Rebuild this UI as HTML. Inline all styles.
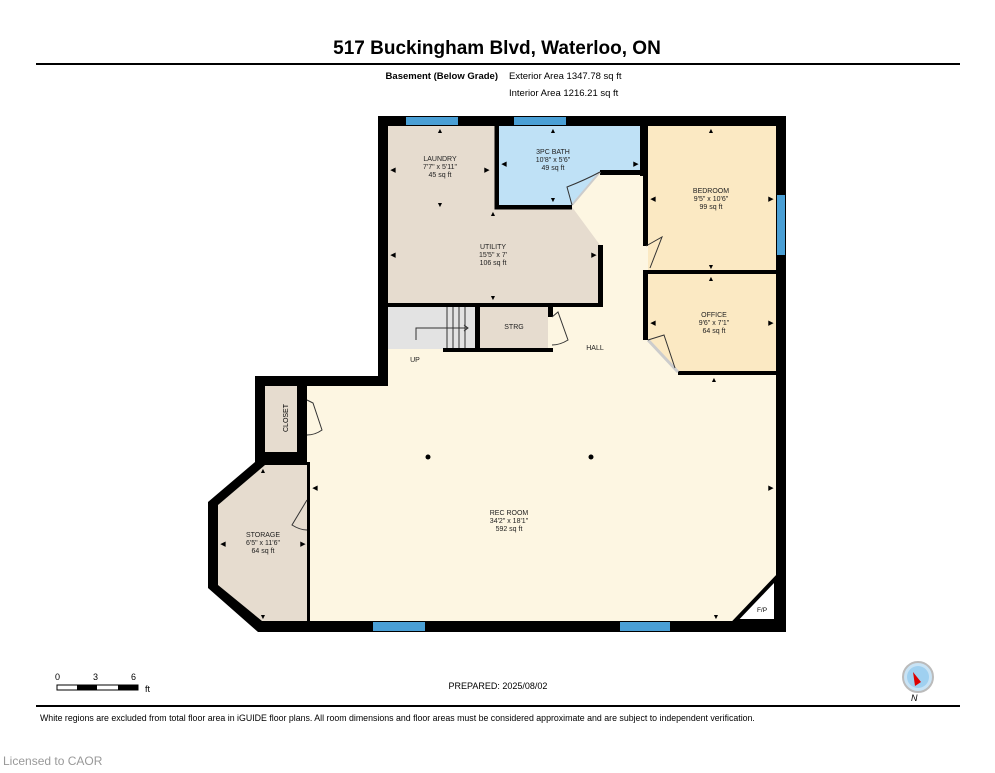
<!DOCTYPE html>
<html><head><meta charset="utf-8"><style>
body{margin:0;background:#fff;width:995px;height:768px;overflow:hidden;font-family:"Liberation Sans",sans-serif}
</style></head><body>
<svg width="995" height="768" viewBox="0 0 995 768" xmlns="http://www.w3.org/2000/svg" font-family="Liberation Sans, sans-serif">
<text x="497" y="54" font-size="19" font-weight="bold" text-anchor="middle">517 Buckingham Blvd, Waterloo, ON</text>
<rect x="36" y="63" width="924" height="2" fill="#000"/>
<text x="498" y="79" font-size="9.5" font-weight="bold" text-anchor="end">Basement (Below Grade)</text>
<text x="509" y="79" font-size="9.5">Exterior Area 1347.78 sq ft</text>
<text x="509" y="96" font-size="9.5">Interior Area 1216.21 sq ft</text>

<polygon points="378,116 786,116 786,632 258,632 208,588 208,502 255,462 255,376 378,376" fill="#000"/>
<polygon points="388,126 776,126 776,621 310,621 310,462 307,462 307,386 388,386" fill="#fdf6e2"/>
<polygon points="388,126 497,126 497,207 572,207 600,245 600,303 388,303" fill="#e6dccf"/>
<path d="M497,126 V207 H572" stroke="#000" stroke-width="5" fill="none"/>
<rect x="598" y="245" width="5" height="62" fill="#000"/>
<rect x="388" y="303" width="215" height="4" fill="#000"/>
<polygon points="499,126 640,126 640,172 600,172 572,205 499,205" fill="#bfe1f6"/>
<rect x="640" y="126" width="5" height="50" fill="#000"/>
<rect x="600" y="170" width="45" height="5" fill="#000"/>
<path d="M572,205 L600,172" stroke="#ccc" stroke-width="2"/>
<path d="M572,205 L567,187 Q585,180 600,172" stroke="#333" stroke-width="1" fill="none"/>
<rect x="648" y="126" width="128" height="144" fill="#fbe9c3"/>
<rect x="643" y="126" width="5" height="120" fill="#000"/>
<rect x="643" y="270" width="133" height="4" fill="#000"/>
<path d="M646,246 L662,237 L650,268" stroke="#333" stroke-width="1" fill="none"/>
<polygon points="648,274 776,274 776,372 678,372 648,340" fill="#fbe9c3"/>
<rect x="643" y="274" width="5" height="66" fill="#000"/>
<rect x="678" y="371" width="98" height="4" fill="#000"/>
<path d="M648,340 L678,372" stroke="#ccc" stroke-width="3"/>
<path d="M648,340 L664,335 L675,368" stroke="#333" stroke-width="1" fill="none"/>
<rect x="388" y="307" width="87" height="42" fill="#e3e3e3"/>
<g stroke="#333" stroke-width="1"><line x1="447" y1="307" x2="447" y2="349"/><line x1="453" y1="307" x2="453" y2="349"/><line x1="459" y1="307" x2="459" y2="349"/><line x1="465" y1="307" x2="465" y2="349"/></g>
<path d="M416,340 V328 H468 M464,325 L468,328 L464,331" stroke="#333" stroke-width="1" fill="none"/>
<rect x="478" y="307" width="70" height="42" fill="#e6dccf"/>
<rect x="475" y="307" width="5" height="45" fill="#000"/>
<rect x="443" y="348" width="110" height="4" fill="#000"/>
<rect x="548" y="307" width="5" height="10" fill="#000"/>
<path d="M552,317 L558,312 L568,340 Q560,345 552,345" stroke="#333" stroke-width="1" fill="none"/>
<rect x="265" y="386" width="32" height="66" fill="#e6dccf"/>
<rect x="297" y="386" width="10" height="14" fill="#000"/>
<rect x="297" y="440" width="10" height="12" fill="#000"/>
<path d="M307,400 L313,403 L322,430 Q315,435 307,435" stroke="#333" stroke-width="1" fill="none"/>
<text transform="translate(288,418) rotate(-90)" font-size="7" text-anchor="middle">CLOSET</text>
<polygon points="265,465 307,465 307,621 262,621 218,585 218,505" fill="#e6dccf"/>
<rect x="307" y="465" width="3" height="35" fill="#000"/>
<rect x="307" y="530" width="3" height="91" fill="#000"/>
<path d="M307,500 L292,525 Q300,530 307,530" stroke="#333" stroke-width="1" fill="none"/>
<polygon points="776,578 776,621 735,621" fill="#fff" stroke="#000" stroke-width="4"/>
<text x="762" y="612" font-size="6.5" text-anchor="middle">F/P</text>
<g fill="#4a9fd5">
<rect x="406" y="117" width="52" height="8"/><rect x="514" y="117" width="52" height="8"/>
<rect x="777" y="195" width="8" height="60"/>
<rect x="373" y="622" width="52" height="9"/><rect x="620" y="622" width="50" height="9"/>
</g>
<circle cx="428" cy="457" r="2.5"/><circle cx="591" cy="457" r="2.5"/>
<g font-size="7" text-anchor="middle" fill="#222">
<text x="440" y="161">LAUNDRY</text><text x="440" y="169">7'7" x 5'11"</text><text x="440" y="177">45 sq ft</text>
<text x="553" y="154">3PC BATH</text><text x="553" y="162">10'8" x 5'6"</text><text x="553" y="170">49 sq ft</text>
<text x="711" y="193">BEDROOM</text><text x="711" y="201">9'5" x 10'6"</text><text x="711" y="209">99 sq ft</text>
<text x="493" y="249">UTILITY</text><text x="493" y="257">15'5" x 7'</text><text x="493" y="265">106 sq ft</text>
<text x="714" y="317">OFFICE</text><text x="714" y="325">9'6" x 7'1"</text><text x="714" y="333">64 sq ft</text>
<text x="514" y="329">STRG</text>
<text x="595" y="350">HALL</text>
<text x="415" y="362">UP</text>
<text x="509" y="515">REC ROOM</text><text x="509" y="523">34'2" x 18'1"</text><text x="509" y="531">592 sq ft</text>
<text x="263" y="537">STORAGE</text><text x="263" y="545">6'5" x 11'6"</text><text x="263" y="553">64 sq ft</text>
</g>
<g fill="#000" font-size="7" text-anchor="middle">
<text x="440" y="133">▲</text><text x="440" y="207">▼</text><text x="553" y="133">▲</text><text x="553" y="202">▼</text>
<text x="711" y="133">▲</text><text x="711" y="269">▼</text><text x="711" y="281">▲</text><text x="714" y="382">▲</text>
<text x="493" y="216">▲</text><text x="493" y="300">▼</text><text x="716" y="619">▼</text><text x="263" y="473">▲</text><text x="263" y="619">▼</text>
<text x="393" y="172">◀</text><text x="487" y="172">▶</text><text x="504" y="166">◀</text><text x="636" y="166">▶</text>
<text x="653" y="201">◀</text><text x="771" y="201">▶</text><text x="393" y="257">◀</text><text x="594" y="257">▶</text>
<text x="653" y="325">◀</text><text x="771" y="325">▶</text><text x="315" y="490">◀</text><text x="771" y="490">▶</text>
<text x="223" y="546">◀</text><text x="303" y="546">▶</text>
</g>
<g font-size="9"><text x="55" y="680">0</text><text x="93" y="680">3</text><text x="131" y="680">6</text><text x="145" y="692">ft</text></g>
<rect x="57" y="685" width="81" height="5" fill="#fff" stroke="#000" stroke-width="1"/>
<rect x="77" y="685" width="20" height="5" fill="#000"/><rect x="118" y="685" width="20" height="5" fill="#000"/>
<text x="498" y="689" font-size="9" text-anchor="middle">PREPARED: 2025/08/02</text>
<circle cx="918" cy="677" r="15" fill="#c8e3f5" stroke="#bbb" stroke-width="2"/>
<circle cx="918" cy="677" r="11" fill="#9fd0f0"/>
<polygon points="913,672 921,682 915,686" fill="#d00"/>
<text x="911" y="701" font-size="9" font-style="italic">N</text>
<rect x="36" y="705" width="924" height="2" fill="#000"/>
<text x="40" y="721" font-size="8.8">White regions are excluded from total floor area in iGUIDE floor plans. All room dimensions and floor areas must be considered approximate and are subject to independent verification.</text>
<text x="3" y="765" font-size="12" fill="#999">Licensed to CAOR</text>
</svg>
</body></html>
